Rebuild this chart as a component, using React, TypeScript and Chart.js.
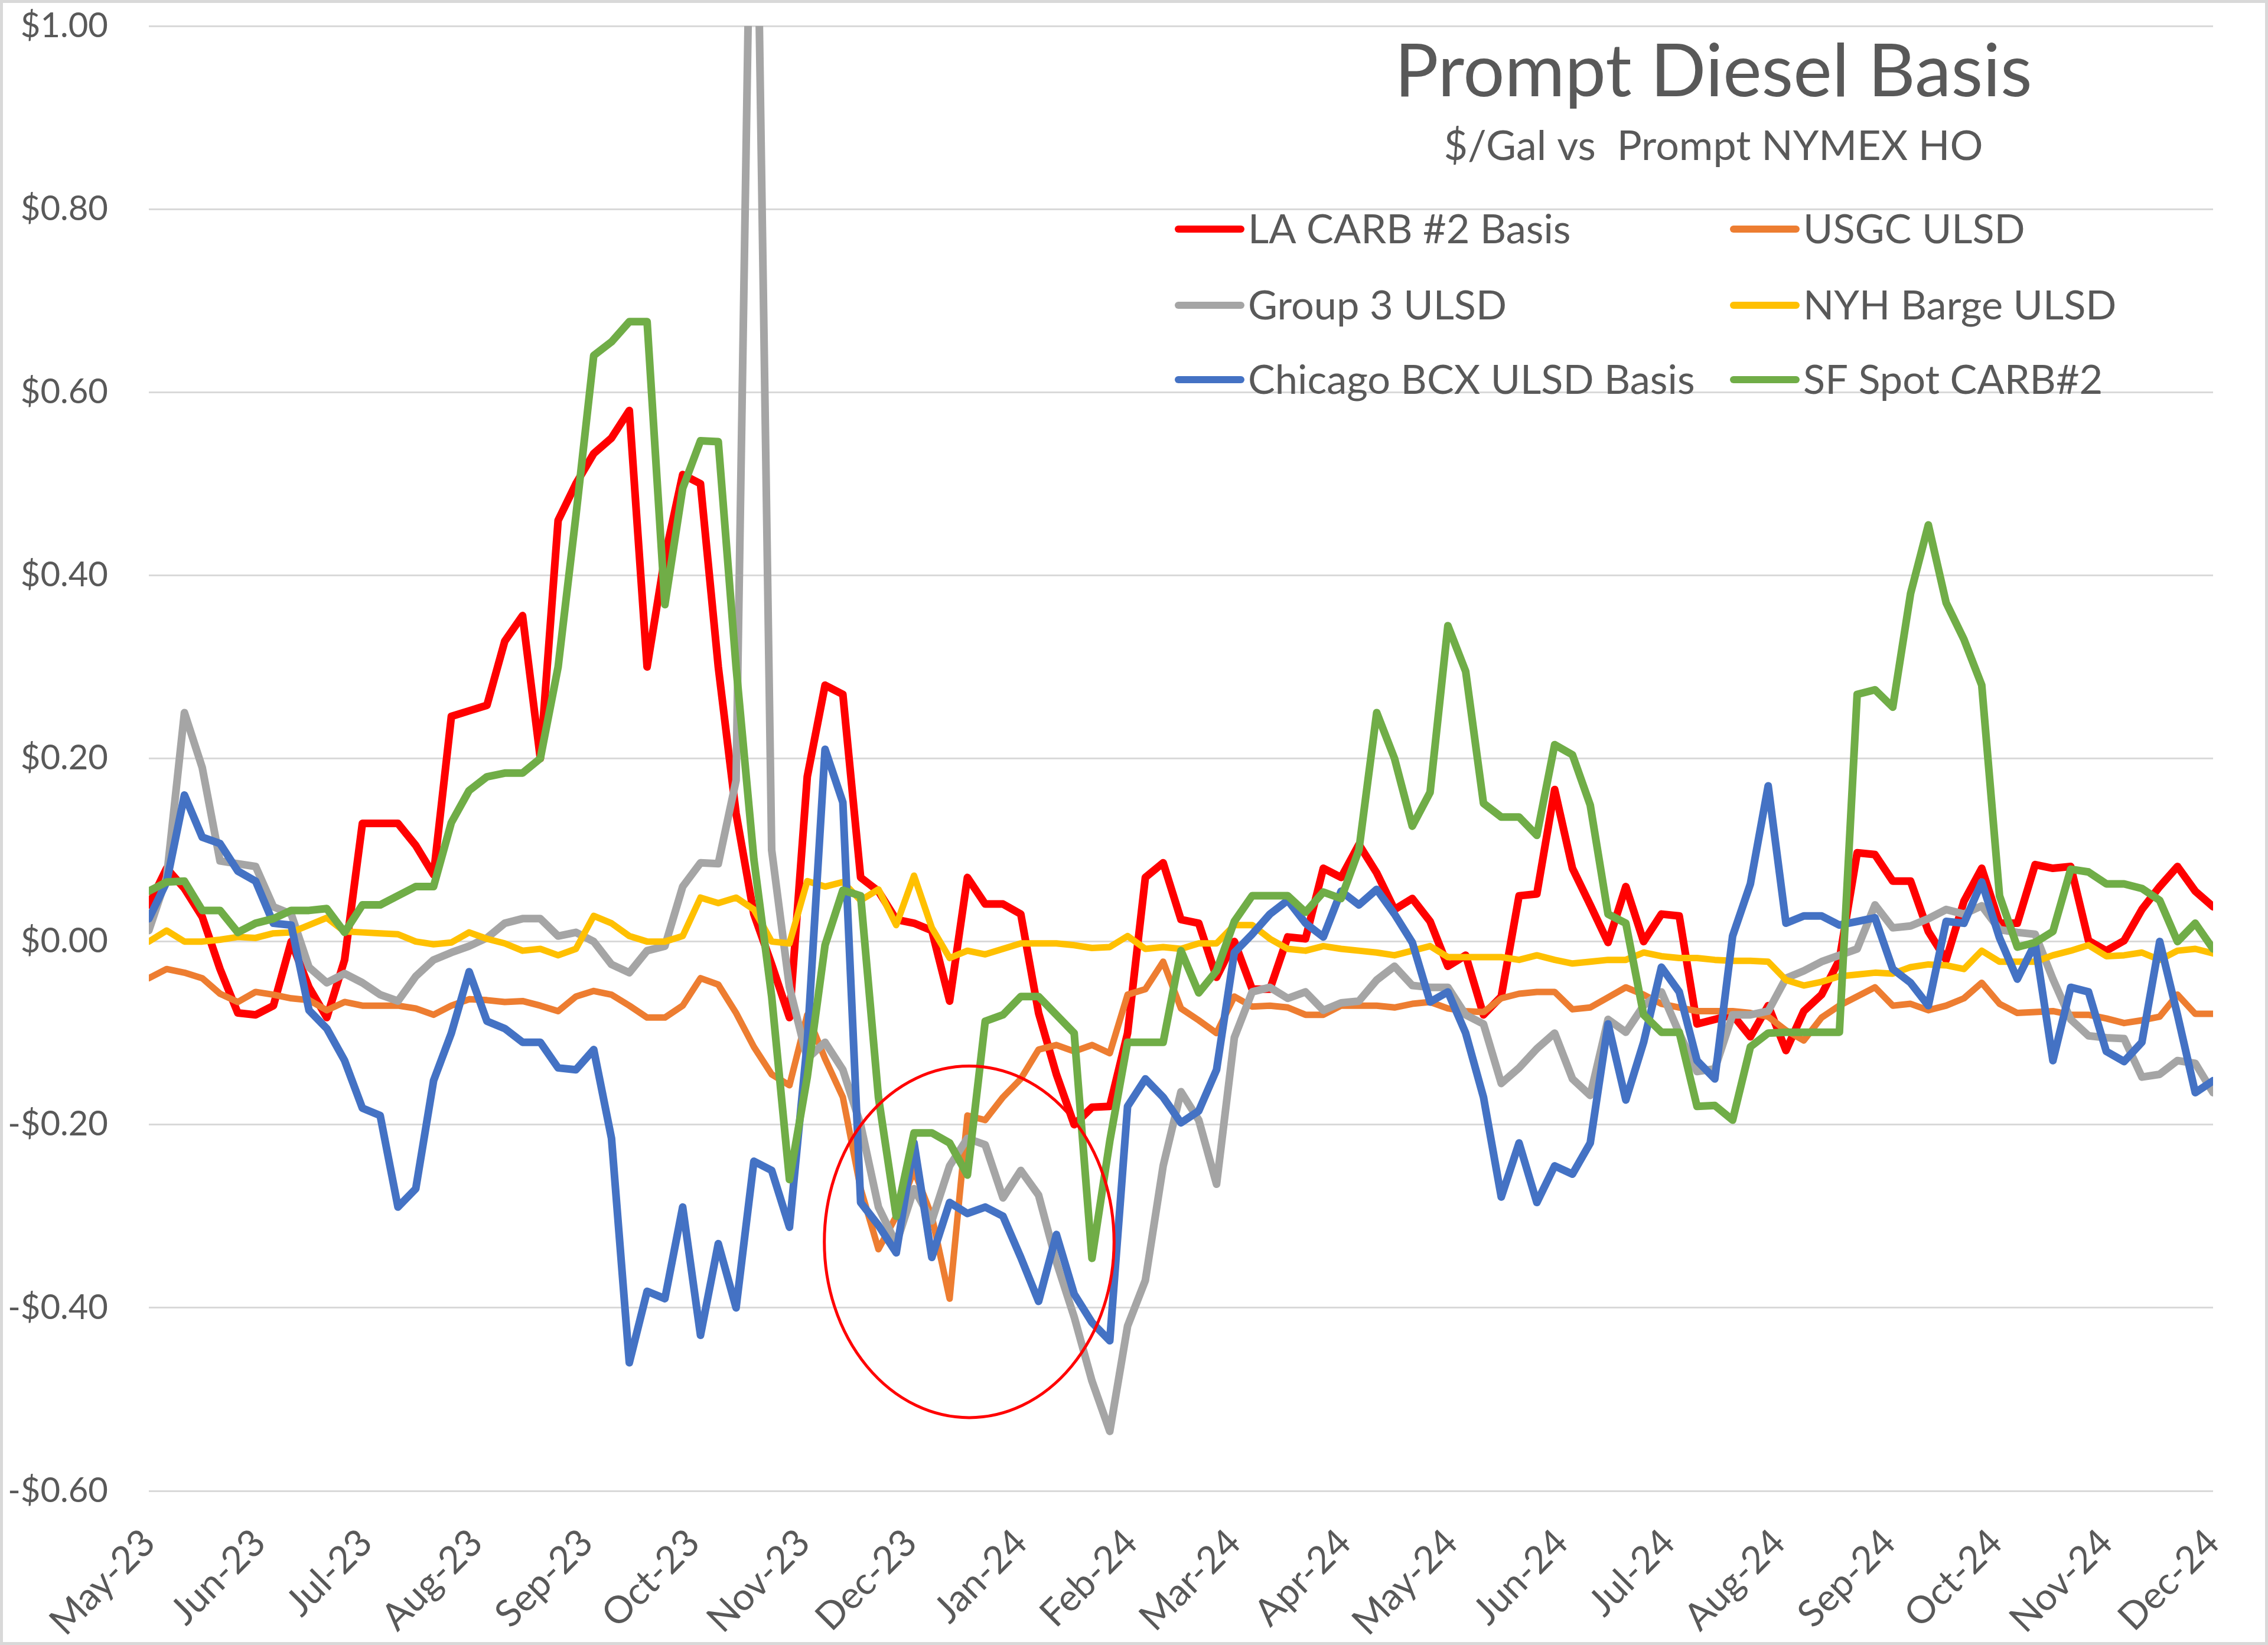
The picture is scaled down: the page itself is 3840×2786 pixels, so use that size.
import React, { useEffect, useRef } from "react";
import { Chart, registerables } from "chart.js";

Chart.register(...registerables);

// ---- data (x = days after 1 May 2023, one value every 5 days) ----
const STEP_DAYS = 5;
const MONTH_TICK_DAYS = [0, 31, 61, 92, 123, 153, 184, 214, 245, 276, 305, 336, 366, 397, 427, 458, 489, 519, 550, 580];
const MONTH_LABELS = ["May-23", "Jun-23", "Jul-23", "Aug-23", "Sep-23", "Oct-23", "Nov-23", "Dec-23", "Jan-24", "Feb-24", "Mar-24", "Apr-24", "May-24", "Jun-24", "Jul-24", "Aug-24", "Sep-24", "Oct-24", "Nov-24", "Dec-24"];
const Y_TICKS = [-0.6, -0.4, -0.2, 0, 0.2, 0.4, 0.6, 0.8, 1.0];

const SERIES_NAMES = ["LA CARB #2 Basis", "USGC ULSD", "Group 3 ULSD", "NYH Barge ULSD", "Chicago BCX ULSD Basis", "SF Spot CARB#2"];

const LA_CARB = [
  0.04, 0.08, 0.058, 0.027, -0.03, -0.078, -0.08, -0.07, 0.0, -0.05,
  -0.083, -0.02, 0.129, 0.129, 0.129, 0.105, 0.073, 0.246, 0.252, 0.258,
  0.328, 0.356, 0.2, 0.46, 0.5, 0.533, 0.55, 0.58, 0.3, 0.42,
  0.51, 0.5, 0.3, 0.14, 0.03, -0.025, -0.083, 0.18, 0.28, 0.27,
  0.07, 0.055, 0.024, 0.02, 0.012, -0.065, 0.07, 0.041, 0.041, 0.03,
  -0.078, -0.145, -0.2, -0.181, -0.18, -0.1, 0.07, 0.086, 0.024, 0.02,
  -0.039, 0.0, -0.052, -0.052, 0.005, 0.003, 0.08, 0.07, 0.106, 0.075,
  0.035, 0.047, 0.022, -0.027, -0.015, -0.08, -0.06, 0.05, 0.052, 0.166,
  0.08, 0.04, -0.001, 0.06, 0.0, 0.03, 0.028, -0.09, -0.085, -0.08,
  -0.104, -0.07, -0.119, -0.076, -0.058, -0.02, 0.097, 0.095, 0.066, 0.066,
  0.011, -0.02, 0.044, 0.08, 0.02, 0.02, 0.084, 0.08, 0.082, 0.001,
  -0.01, 0.001, 0.035, 0.06, 0.082, 0.055, 0.038,
];

const USGC_ULSD = [
  -0.04, -0.03, -0.034, -0.04, -0.057, -0.066, -0.055, -0.058, -0.062, -0.064,
  -0.075, -0.066, -0.07, -0.07, -0.07, -0.073, -0.08, -0.07, -0.063, -0.064,
  -0.066, -0.065, -0.07, -0.076, -0.06, -0.054, -0.058, -0.07, -0.083, -0.083,
  -0.07, -0.04, -0.047, -0.078, -0.115, -0.145, -0.157, -0.08, -0.128, -0.17,
  -0.27, -0.336, -0.3, -0.25, -0.3, -0.39, -0.19, -0.195, -0.17, -0.15,
  -0.118, -0.113, -0.12, -0.113, -0.122, -0.058, -0.052, -0.022, -0.073, -0.086,
  -0.1, -0.06, -0.071, -0.07, -0.072, -0.08, -0.08, -0.07, -0.07, -0.07,
  -0.072, -0.068, -0.066, -0.073, -0.076, -0.077, -0.062, -0.057, -0.055, -0.055,
  -0.074, -0.072, -0.061, -0.05, -0.058, -0.068, -0.072, -0.076, -0.076, -0.076,
  -0.078, -0.082, -0.097, -0.108, -0.083, -0.07, -0.06, -0.05, -0.07, -0.068,
  -0.075, -0.07, -0.062, -0.045, -0.068, -0.078, -0.077, -0.076, -0.08, -0.08,
  -0.084, -0.089, -0.086, -0.082, -0.058, -0.079, -0.079,
];

const GROUP3_ULSD = [
  0.012, 0.07, 0.25, 0.19, 0.088, 0.085, 0.082, 0.038, 0.03, -0.028,
  -0.045, -0.035, -0.045, -0.058, -0.065, -0.038, -0.02, -0.012, -0.005, 0.004,
  0.02, 0.025, 0.025, 0.006, 0.01, 0.0, -0.025, -0.034, -0.01, -0.005,
  0.06, 0.086, 0.085, 0.176, 1.4, 0.1, -0.05, -0.128, -0.11, -0.14,
  -0.2, -0.29, -0.33, -0.27, -0.305, -0.245, -0.215, -0.222, -0.28, -0.25,
  -0.277, -0.35, -0.41, -0.48, -0.535, -0.42, -0.37, -0.245, -0.164, -0.195,
  -0.265, -0.105, -0.055, -0.05, -0.062, -0.055, -0.075, -0.067, -0.065, -0.042,
  -0.027, -0.048, -0.05, -0.05, -0.08, -0.09, -0.155, -0.138, -0.117, -0.1,
  -0.15, -0.168, -0.085, -0.099, -0.07, -0.055, -0.1, -0.142, -0.139, -0.08,
  -0.08, -0.076, -0.04, -0.032, -0.022, -0.015, -0.008, 0.04, 0.015, 0.017,
  0.025, 0.035, 0.03, 0.039, 0.013, 0.01, 0.008, -0.041, -0.085, -0.103,
  -0.105, -0.106, -0.148, -0.145, -0.13, -0.133, -0.165,
];

const NYH_BARGE = [
  0.0, 0.012, 0.0, 0.0, 0.002, 0.005, 0.004, 0.009, 0.01, 0.018,
  0.026, 0.011, 0.01, 0.009, 0.008, 0.0, -0.003, -0.001, 0.01, 0.003,
  -0.002, -0.01, -0.008, -0.015, -0.008, 0.028, 0.02, 0.006, 0.0, 0.0,
  0.006, 0.048, 0.042, 0.048, 0.035, 0.0, -0.002, 0.066, 0.06, 0.065,
  0.045, 0.057, 0.018, 0.072, 0.015, -0.018, -0.01, -0.014, -0.008, -0.002,
  -0.002, -0.002, -0.004, -0.007, -0.006, 0.006, -0.008, -0.006, -0.008, -0.002,
  -0.002, 0.018, 0.018, 0.003, -0.008, -0.01, -0.005, -0.008, -0.01, -0.012,
  -0.015, -0.01, -0.005, -0.017, -0.017, -0.017, -0.017, -0.02, -0.015, -0.02,
  -0.024, -0.022, -0.02, -0.02, -0.012, -0.016, -0.018, -0.018, -0.02, -0.021,
  -0.021, -0.022, -0.042, -0.048, -0.044, -0.038, -0.036, -0.034, -0.035, -0.028,
  -0.025, -0.026, -0.03, -0.01, -0.022, -0.022, -0.022, -0.015, -0.01, -0.004,
  -0.016, -0.015, -0.012, -0.02, -0.01, -0.008, -0.013,
];

const CHICAGO_BCX = [
  0.025, 0.065, 0.16, 0.114, 0.107, 0.077, 0.066, 0.02, 0.018, -0.075,
  -0.095, -0.13, -0.182, -0.19, -0.29, -0.27, -0.152, -0.1, -0.033, -0.087,
  -0.095, -0.11, -0.11, -0.138, -0.14, -0.118, -0.215, -0.46, -0.382, -0.39,
  -0.29, -0.43, -0.33, -0.4, -0.24, -0.25, -0.312, -0.11, 0.21, 0.152,
  -0.285, -0.31, -0.34, -0.22, -0.345, -0.285, -0.297, -0.29, -0.3, -0.345,
  -0.393, -0.32, -0.385, -0.416, -0.436, -0.18, -0.15, -0.17, -0.198, -0.185,
  -0.14, -0.012, 0.008, 0.03, 0.045, 0.02, 0.005, 0.055, 0.04, 0.057,
  0.03, -0.001, -0.066, -0.055, -0.1, -0.17, -0.279, -0.22, -0.285, -0.245,
  -0.254, -0.22, -0.09, -0.173, -0.11, -0.028, -0.055, -0.13, -0.15, 0.006,
  0.063, 0.17, 0.02, 0.028, 0.028, 0.018, 0.022, 0.026, -0.03, -0.045,
  -0.07, 0.022, 0.02, 0.065, 0.004, -0.041, -0.002, -0.13, -0.05, -0.055,
  -0.12, -0.131, -0.11, 0.0, -0.08, -0.165, -0.152,
];

const SF_SPOT = [
  0.055, 0.065, 0.066, 0.034, 0.034, 0.01, 0.02, 0.025, 0.034, 0.034,
  0.036, 0.01, 0.04, 0.04, 0.05, 0.06, 0.06, 0.13, 0.165, 0.18,
  0.184, 0.184, 0.2, 0.3, 0.465, 0.64, 0.655, 0.677, 0.677, 0.368,
  0.495, 0.547, 0.546, 0.3, 0.09, -0.06, -0.26, -0.148, -0.004, 0.056,
  0.05, -0.17, -0.3, -0.209, -0.209, -0.22, -0.255, -0.087, -0.08, -0.06,
  -0.06, -0.08, -0.1, -0.346, -0.218, -0.11, -0.11, -0.11, -0.01, -0.056,
  -0.032, 0.022, 0.05, 0.05, 0.05, 0.032, 0.054, 0.047, 0.1, 0.25,
  0.2, 0.126, 0.163, 0.345, 0.295, 0.151, 0.136, 0.136, 0.116, 0.215,
  0.204, 0.149, 0.03, 0.02, -0.08, -0.099, -0.099, -0.18, -0.179, -0.195,
  -0.115, -0.1, -0.099, -0.099, -0.099, -0.099, 0.27, 0.275, 0.256, 0.38,
  0.455, 0.37, 0.33, 0.28, 0.05, -0.006, -0.001, 0.011, 0.079, 0.076,
  0.063, 0.063, 0.058, 0.045, 0.0, 0.02, -0.008,
];

const SERIES_VALUES = [LA_CARB, USGC_ULSD, GROUP3_ULSD, NYH_BARGE, CHICAGO_BCX, SF_SPOT];
const SERIES_COLORS = ["#FF0000", "#ED7D31", "#A5A5A5", "#FFC000", "#4472C4", "#70AD47"];
const SERIES_WIDTHS = [13, 11, 13, 11, 13, 13];

// circled region (in data units: day, value)
const HIGHLIGHT = { day: 230.5, value: -0.328, dayRadius: 40.7, valueRadius: 0.192 };

const TITLE = "Prompt Diesel Basis";
const SUBTITLE = "$/Gal vs  Prompt NYMEX HO";

const W = 3840;
const H = 2786;
const TEXT = "#595959";
const GRID = "#D9D9D9";
const FONT = "Lato, 'Liberation Sans', sans-serif";

function fmtMoney(v: number): string {
  const r = Math.round(v * 100) / 100;
  return (r < 0 ? "-$" : "$") + Math.abs(r).toFixed(2);
}

const frame = {
  id: "frame",
  beforeDraw(chart: any) {
    const ctx = chart.ctx;
    ctx.save();
    ctx.fillStyle = "#FFFFFF";
    ctx.fillRect(0, 0, chart.width, chart.height);
    ctx.restore();
  },
  afterDraw(chart: any) {
    const ctx = chart.ctx;
    ctx.save();
    ctx.strokeStyle = GRID;
    ctx.lineWidth = 5;
    ctx.strokeRect(2.5, 2.5, chart.width - 5, chart.height - 5);
    ctx.restore();
  },
};

const highlight = {
  id: "highlight",
  afterDatasetsDraw(chart: any) {
    const { x, y } = chart.scales;
    const cx = x.getPixelForValue(HIGHLIGHT.day);
    const cy = y.getPixelForValue(HIGHLIGHT.value);
    const rx = x.getPixelForValue(HIGHLIGHT.day + HIGHLIGHT.dayRadius) - cx;
    const ry = cy - y.getPixelForValue(HIGHLIGHT.value + HIGHLIGHT.valueRadius);
    const ctx = chart.ctx;
    ctx.save();
    ctx.strokeStyle = "#FF0000";
    ctx.lineWidth = 5;
    ctx.beginPath();
    ctx.ellipse(cx, cy, rx, ry, 0, 0, Math.PI * 2);
    ctx.stroke();
    ctx.restore();
  },
};

const headings = {
  id: "headings",
  afterDraw(chart: any) {
    const ctx = chart.ctx;
    ctx.save();
    ctx.fillStyle = TEXT;
    ctx.textAlign = "center";
    ctx.textBaseline = "alphabetic";
    ctx.font = `124px ${FONT}`;
    ctx.fillText(TITLE, 2901, 163);
    ctx.font = `70px ${FONT}`;
    ctx.fillText(SUBTITLE, 2901, 271);

    const colLine = [1989, 2929];
    const rowY = [388, 517, 643];
    ctx.font = `68.5px ${FONT}`;
    ctx.textAlign = "left";
    ctx.textBaseline = "middle";
    chart.data.datasets.forEach((ds: any, i: number) => {
      const col = i % 2;
      const row = Math.floor(i / 2);
      const x0 = colLine[col];
      const yy = rowY[row];
      ctx.strokeStyle = ds.borderColor;
      ctx.lineWidth = 12;
      ctx.lineCap = "round";
      ctx.beginPath();
      ctx.moveTo(x0 + 6, yy);
      ctx.lineTo(x0 + 112, yy);
      ctx.stroke();
      ctx.fillStyle = TEXT;
      ctx.fillText(ds.label, x0 + 124, yy + 2);
    });
    ctx.restore();
  },
};

export default function App() {
  const ref = useRef<HTMLCanvasElement | null>(null);

  useEffect(() => {
    if (!ref.current) return;
    const datasets = SERIES_VALUES.map((vals, i) => ({
      label: SERIES_NAMES[i],
      data: vals.map((v, k) => ({ x: k * STEP_DAYS, y: v })),
      borderColor: SERIES_COLORS[i],
      backgroundColor: SERIES_COLORS[i],
      borderWidth: SERIES_WIDTHS[i],
      pointRadius: 0,
      tension: 0,
      borderJoinStyle: "round" as const,
      borderCapStyle: "round" as const,
      fill: false,
      order: SERIES_VALUES.length - i,
    }));

    const chart = new Chart(ref.current, {
      type: "line",
      data: { datasets },
      options: {
        animation: false,
        responsive: false,
        maintainAspectRatio: false,
        devicePixelRatio: 1,
        layout: { padding: { top: 44, right: 93, bottom: 0, left: 0 } },
        plugins: {
          legend: { display: false },
          title: { display: false },
          tooltip: { enabled: false },
        },
        scales: {
          x: {
            type: "linear",
            min: MONTH_TICK_DAYS[0],
            max: MONTH_TICK_DAYS[MONTH_TICK_DAYS.length - 1],
            grid: { display: false, drawTicks: false },
            border: { display: false },
            afterBuildTicks: (s: any) => {
              s.ticks = MONTH_TICK_DAYS.map((v) => ({ value: v }));
            },
            afterFit: (s: any) => {
              s.height = H - 2525;
              s.paddingLeft = 0;
              s.paddingRight = 0;
            },
            ticks: {
              autoSkip: false,
              minRotation: 45,
              maxRotation: 45,
              padding: 50,
              color: TEXT,
              font: { family: FONT, size: 64 },
              callback: (_v: any, i: number) => MONTH_LABELS[i],
            },
          },
          y: {
            type: "linear",
            min: Y_TICKS[0],
            max: Y_TICKS[Y_TICKS.length - 1],
            grid: { color: GRID, lineWidth: 3, drawTicks: false },
            border: { display: false },
            afterBuildTicks: (s: any) => {
              s.ticks = Y_TICKS.map((v) => ({ value: v }));
            },
            afterFit: (s: any) => {
              s.width = 252;
              s.paddingTop = 0;
              s.paddingBottom = 0;
            },
            ticks: {
              padding: 69,
              color: TEXT,
              font: { family: FONT, size: 58 },
              callback: (v: any) => fmtMoney(Number(v)),
            },
          },
        },
      },
      plugins: [frame, highlight, headings],
    });
    return () => chart.destroy();
  }, []);

  return (
    <div style={{ position: "absolute", left: 0, top: 0, width: W, height: H }}>
      <canvas ref={ref} width={W} height={H} style={{ width: W, height: H, display: "block" }} />
    </div>
  );
}
